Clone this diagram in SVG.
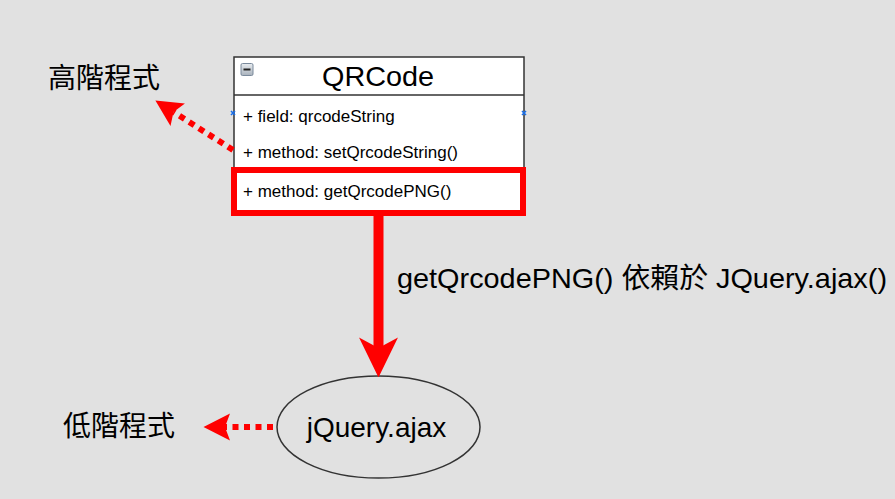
<svg xmlns="http://www.w3.org/2000/svg" width="895" height="499" viewBox="0 0 895 499">
  <style>
    .t { font-family: "Liberation Sans", "Noto Sans CJK TC", Arial, sans-serif; fill: #000; }
    .big { font-size: 28px; }
    .row { font-size: 17px; }
    .dep { stroke: #ff0000; stroke-width: 10; fill: none; }
    .dot { stroke: #ff0000; stroke-width: 6; stroke-dasharray: 6 5.5; fill: none; }
    .blue { stroke: #1a6fe8; stroke-width: 1.6; fill: none; }
  </style>
  <defs>
    <linearGradient id="iconGrad" x1="0" y1="0" x2="0" y2="1">
      <stop offset="0" stop-color="#e8ecf0"/>
      <stop offset="1" stop-color="#a9b2bc"/>
    </linearGradient>
    <marker id="bigHead" markerUnits="userSpaceOnUse" markerWidth="40" markerHeight="40" viewBox="0 -19 38 38" refX="10" refY="0" orient="auto">
      <path d="M0,-18.5 L38,0 L0,18.5 L10,0 Z" fill="#ff0000"/>
    </marker>
    <marker id="smallHead" markerUnits="userSpaceOnUse" markerWidth="28" markerHeight="28" viewBox="0 -14 27 28" refX="5" refY="0" orient="auto">
      <path d="M0,-13.4 L26.5,0 L0,13.4 L5,0 Z" fill="#ff0000"/>
    </marker>
  </defs>
  <rect width="895" height="499" fill="#e1e1e1"/>

  <g id="label-high">
    <text class="t big" x="48" y="88">高階程式</text>
  </g>
  <g id="label-low">
    <text class="t big" x="63" y="436">低階程式</text>
  </g>

  <g id="qrcode">
    <rect x="234" y="57" width="290" height="156" fill="#ffffff" stroke="#333333" stroke-width="1.5"/>
    <line x1="234" y1="95" x2="524" y2="95" stroke="#333333" stroke-width="1.5"/>
    <rect x="241" y="63.5" width="12" height="12" rx="1.5" fill="url(#iconGrad)" stroke="#7a8a9c" stroke-width="1"/>
    <line x1="243.5" y1="69.5" x2="250.5" y2="69.5" stroke="#222" stroke-width="2"/>
    <text class="t big" x="378" y="86" text-anchor="middle" textLength="112" lengthAdjust="spacingAndGlyphs">QRCode</text>
    <text class="t row" x="243" y="121.5">+ field: qrcodeString</text>
    <text class="t row" x="243" y="158">+ method: setQrcodeString()</text>
    <text class="t row" x="243" y="197">+ method: getQrcodePNG()</text>
    <path class="blue" d="M231,111 L235,115 M235,111 L231,115"/>
    <path class="blue" d="M522,111 L526,115 M526,111 L522,115"/>
    <rect x="234" y="170" width="289" height="43" fill="none" stroke="#ff0000" stroke-width="6"/>
  </g>

  <g id="jquery-ajax">
    <ellipse cx="378.5" cy="427" rx="101.5" ry="51" fill="none" stroke="#333333" stroke-width="1.5"/>
    <text class="t big" x="376.5" y="437" text-anchor="middle">jQuery.ajax</text>
  </g>

  <g id="connectors">
    <line class="dep" x1="378.5" y1="216" x2="378.5" y2="348" marker-end="url(#bigHead)"/>
    <text class="t big" x="397" y="288" textLength="490" lengthAdjust="spacingAndGlyphs">getQrcodePNG() 依賴於 JQuery.ajax()</text>
    <line class="dot" x1="233" y1="150" x2="173.5" y2="112" marker-end="url(#smallHead)"/>
    <line class="dot" x1="273" y1="427" x2="225" y2="427" marker-end="url(#smallHead)"/>
  </g>
</svg>
